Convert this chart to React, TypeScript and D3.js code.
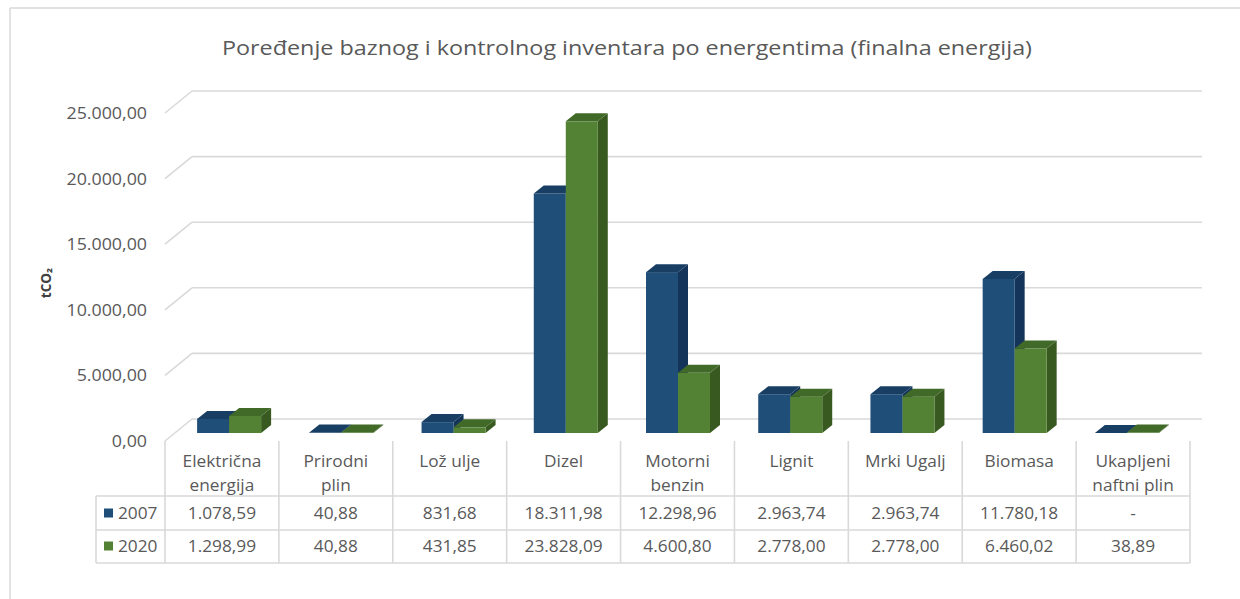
import React from "react";
import * as d3 from "d3";

const title = "Poređenje baznog i kontrolnog inventara po energentima (finalna energija)";
const categories = [
  "Električna energija",
  "Prirodni plin",
  "Lož ulje",
  "Dizel",
  "Motorni benzin",
  "Lignit",
  "Mrki Ugalj",
  "Biomasa",
  "Ukapljeni naftni plin",
];
const categoryLines = [
  ["Električna", "energija"],
  ["Prirodni", "plin"],
  ["Lož ulje"],
  ["Dizel"],
  ["Motorni", "benzin"],
  ["Lignit"],
  ["Mrki Ugalj"],
  ["Biomasa"],
  ["Ukapljeni", "naftni plin"],
];
const seriesNames = ["2007", "2020"];
const values2007 = [1078.59, 40.88, 831.68, 18311.98, 12298.96, 2963.74, 2963.74, 11780.18, 0];
const values2020 = [1298.99, 40.88, 431.85, 23828.09, 4600.8, 2778.0, 2778.0, 6460.02, 38.89];
const yTicks = [0, 5000, 10000, 15000, 20000, 25000];
const yAxisTitle = "tCO₂";

const colors = {
  "2007": { front: "#1f4e79", top: "#183e63", side: "#14345a" },
  "2020": { front: "#548235", top: "#416a29", side: "#385a20" },
};

const locale = d3.formatLocale({ decimal: ",", thousands: ".", grouping: [3], currency: ["", ""] });
const fmt = locale.format(",.2f");
const fmtVal = (v: number) => (v === 0 ? "-" : fmt(v));

export default function App() {
  const W = 1240;
  const H = 599;
  const FONT = "'Open Sans', 'DejaVu Sans', sans-serif";
  const SX = 1.08; // horizontal stretch of reference text

  // floor geometry
  const frontLeft = 165;
  const tableRight = 1190;
  const backLeft = 192;
  const backRight = 1202;
  const yFront = d3.scaleLinear().domain([0, 25000]).range([441, 113]);
  const yBack = d3.scaleLinear().domain([0, 25000]).range([419, 91]);

  // bars sit deeper than the table plane (perspective)
  const xBars = d3.scaleBand<string>().domain(categories).range([165, 1175]).padding(0);
  const xInner = d3.scaleBand<string>().domain(seriesNames).range([0, 64]).padding(0);
  const bw = xInner.bandwidth();
  const yBar = d3.scaleLinear().domain([0, 25000]).range([433, 106]);
  const bdx = 10;
  const bdy = 8;

  // table columns on the front plane
  const xTable = d3.scaleBand<string>().domain(categories).range([frontLeft, tableRight]).padding(0);

  const series = [
    { name: "2007", values: values2007 },
    { name: "2020", values: values2020 },
  ];

  const gridColor = "#d9d9d9";

  const tableLeft = 96;
  const headerTop = 441;
  const row1 = 496;
  const row2 = 530;
  const tableBottom = 563;

  const stretchText = (key: any, x: number, y: number, txt: string, anchor: string, size: number, fill = "#595959", weight = "normal") => (
    <text
      key={key}
      transform={`translate(${x},${y}) scale(${SX},1)`}
      dy="0.36em"
      textAnchor={anchor as any}
      fontFamily={FONT}
      fontSize={size}
      fontWeight={weight}
      fill={fill}
    >
      {txt}
    </text>
  );

  const bars: React.ReactNode[] = [];
  categories.forEach((c, i) => {
    series.forEach((s) => {
      const v = s.values[i];
      const x0 = (xBars(c) as number) + xBars.bandwidth() / 2 - 24 + (xInner(s.name) as number);
      const x1 = x0 + bw;
      const yb = yBar(0);
      const yt = yBar(v);
      const col = (colors as any)[s.name];
      bars.push(
        <g key={c + s.name}>
          <polygon
            points={`${x1},${yt} ${x1 + bdx},${yt - bdy} ${x1 + bdx},${yb - bdy} ${x1},${yb}`}
            fill={col.side}
          />
          {yb - yt > 0.01 && <rect x={x0} y={yt} width={bw} height={yb - yt} fill={col.front} />}
          <polygon
            points={`${x0},${yt} ${x0 + bdx},${yt - bdy} ${x1 + bdx},${yt - bdy} ${x1},${yt}`}
            fill={col.top}
          />
        </g>
      );
    });
  });

  return (
    <div style={{ position: "absolute", left: 0, top: 0 }}>
      <svg width={W} height={H} style={{ display: "block", background: "#fff" }}>
        <rect x={0} y={0} width={W} height={H} fill="#ffffff" />
        {/* chart frame */}
        <line x1={10} y1={8} x2={W} y2={8} stroke="#d9d9d9" strokeWidth={1.5} />
        <line x1={10} y1={8} x2={10} y2={H} stroke="#d9d9d9" strokeWidth={1.5} />

        {/* title */}
        <text
          x={627}
          y={55}
          textAnchor="middle"
          fontFamily={FONT}
          fontSize={20}
          fill="#595959"
          textLength={810}
          lengthAdjust="spacingAndGlyphs"
        >
          {title}
        </text>

        {/* gridlines */}
        {yTicks.map((t) => (
          <g key={t}>
            <line x1={backLeft} y1={yBack(t)} x2={backRight} y2={yBack(t)} stroke={gridColor} strokeWidth={1.6} />
            <line x1={frontLeft} y1={yFront(t)} x2={backLeft} y2={yBack(t)} stroke={gridColor} strokeWidth={1.6} />
            {stretchText("yt" + t, 147, yFront(t), fmt(t), "end", 16.5)}
          </g>
        ))}

        {/* y axis title */}
        <text
          transform={`translate(51,${283}) rotate(-90)`}
          textAnchor="middle"
          fontFamily={FONT}
          fontSize={13.5}
          fontWeight="bold"
          fill="#404040"
        >
          {yAxisTitle}
        </text>

        {/* bars */}
        {bars}

        {/* data table */}
        <g stroke={gridColor} strokeWidth={1.6}>
          {categories.map((c) => (
            <line key={c} x1={xTable(c) as number} y1={headerTop} x2={xTable(c) as number} y2={tableBottom} />
          ))}
          <line x1={tableRight} y1={headerTop} x2={tableRight} y2={tableBottom} />
          <line x1={tableLeft} y1={row1} x2={tableLeft} y2={tableBottom} />
          <line x1={tableLeft} y1={row1} x2={tableRight} y2={row1} />
          <line x1={tableLeft} y1={row2} x2={tableRight} y2={row2} />
          <line x1={tableLeft} y1={tableBottom} x2={tableRight} y2={tableBottom} />
        </g>
        {categories.map((c, i) => {
          const cx = (xTable(c) as number) + xTable.bandwidth() / 2;
          return (
            <g key={"h" + c}>
              {categoryLines[i].map((ln, j) => stretchText(j, cx, 461 + j * 24, ln, "middle", 16))}
              {stretchText("a", cx, 513, fmtVal(values2007[i]), "middle", 16)}
              {stretchText("b", cx, 546, fmtVal(values2020[i]), "middle", 16)}
            </g>
          );
        })}
        {/* legend keys in table */}
        {series.map((s, k) => {
          const cy = k === 0 ? 513 : 546;
          return (
            <g key={"lg" + s.name}>
              <rect x={104} y={cy - 4.5} width={9} height={9} fill={(colors as any)[s.name].front} />
              {stretchText("t", 118, cy, s.name, "start", 16)}
            </g>
          );
        })}
      </svg>
    </div>
  );
}
